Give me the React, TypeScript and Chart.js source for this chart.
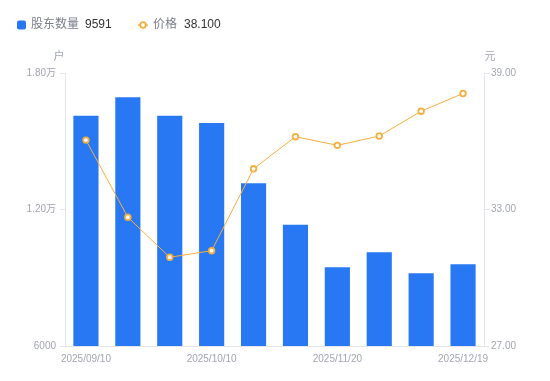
import React, { useEffect, useRef } from "react";
import { Chart, registerables } from "chart.js";

Chart.register(...registerables);

const dates = [
  "2025/09/10", "2025/09/19", "2025/09/30", "2025/10/10", "2025/10/24",
  "2025/11/10", "2025/11/20", "2025/11/30", "2025/12/10", "2025/12/19",
];
const holders = [16120, 16930, 16120, 15800, 13150, 11330, 9460, 10120, 9200, 9591];
const prices = [36.05, 32.66, 30.9, 31.19, 34.79, 36.2, 35.82, 36.23, 37.32, 38.1];
const leftTicks = [6000, 12000, 18000];
const rightTicks = [27, 33, 39];
const holderName = "股东数量";
const priceName = "价格";
const holderLatest = "9591";
const priceLatest = "38.100";
const leftUnit = "户";
const rightUnit = "元";

const BAR = "#2778F2";
const LINE = "#F8AE3C";
const AXIS = "#E3E5EA";
const TICK_TEXT = "#A2A5B0";
const FONT = "'Liberation Sans', Arial, 'Noto Sans CJK SC', sans-serif";

const overlayPlugin = {
  id: "overlay",
  afterDraw(chart: any) {
    const { ctx, chartArea } = chart;
    ctx.save();
    ctx.textBaseline = "middle";
    const cy = 25;
    // legend item 1
    ctx.fillStyle = BAR;
    ctx.beginPath();
    if ((ctx as any).roundRect) (ctx as any).roundRect(17, 20.5, 9, 9, 2);
    else ctx.rect(17, 20.5, 9, 9);
    ctx.fill();
    ctx.font = `12px ${FONT}`;
    ctx.textAlign = "left";
    ctx.fillStyle = "#7A7E8A";
    ctx.fillText(holderName, 31, cy);
    let w = ctx.measureText(holderName).width;
    ctx.fillStyle = "#333333";
    ctx.fillText(holderLatest, 31 + w + 6, cy);
    // legend item 2
    ctx.strokeStyle = LINE;
    ctx.lineWidth = 1.5;
    ctx.beginPath();
    ctx.moveTo(138, cy);
    ctx.lineTo(148, cy);
    ctx.stroke();
    ctx.beginPath();
    ctx.arc(143, cy, 2.8, 0, Math.PI * 2);
    ctx.fillStyle = "#fff";
    ctx.fill();
    ctx.lineWidth = 1.8;
    ctx.stroke();
    ctx.fillStyle = "#7A7E8A";
    ctx.fillText(priceName, 153, cy);
    w = ctx.measureText(priceName).width;
    ctx.fillStyle = "#333333";
    ctx.fillText(priceLatest, 153 + w + 7, cy);
    // unit labels
    ctx.font = `11px ${FONT}`;
    ctx.fillStyle = TICK_TEXT;
    ctx.textAlign = "center";
    ctx.fillText(leftUnit, chartArea.left - 6, 57);
    ctx.fillText(rightUnit, chartArea.right + 6, 57);
    ctx.restore();
  },
};

export default function App() {
  const ref = useRef<HTMLCanvasElement | null>(null);
  useEffect(() => {
    if (!ref.current) return;
    const chart = new Chart(ref.current, {
      type: "bar",
      data: {
        labels: dates,
        datasets: [
          {
            type: "line",
            label: priceName,
            data: prices,
            yAxisID: "y1",
            borderColor: LINE,
            borderWidth: 1,
            pointRadius: 2.8,
            pointBorderWidth: 1.8,
            pointBackgroundColor: "#fff",
            pointBorderColor: LINE,
            tension: 0,
            order: 0,
          } as any,
          {
            type: "bar",
            label: holderName,
            data: holders,
            yAxisID: "y",
            backgroundColor: BAR,
            barPercentage: 0.6,
            categoryPercentage: 1,
            order: 1,
          },
        ],
      },
      options: {
        animation: false,
        responsive: true,
        maintainAspectRatio: false,
        layout: { padding: { top: 73, left: 0, right: 0, bottom: 0 } },
        plugins: { legend: { display: false }, tooltip: { enabled: false } },
        scales: {
          x: {
            grid: { display: false, drawTicks: false },
            border: { display: true, color: AXIS },
            ticks: {
              autoSkip: false,
              maxRotation: 0,
              padding: 7,
              color: TICK_TEXT,
              font: { size: 10, family: FONT },
              callback: (_v: any, i: number) => (i % 3 === 0 ? dates[i] : ""),
            },
            afterFit: (s: any) => {
              s.height = 35;
            },
          },
          y: {
            position: "left",
            min: leftTicks[0],
            max: leftTicks[leftTicks.length - 1],
            afterBuildTicks: (s: any) => {
              s.ticks = leftTicks.map((v) => ({ value: v }));
            },
            grid: { display: true, drawOnChartArea: false, drawTicks: true, tickLength: 5, color: AXIS },
            border: { display: true, color: AXIS },
            ticks: {
              padding: 4,
              color: TICK_TEXT,
              font: { size: 10, family: FONT },
              callback: (v: any) => (v >= 10000 ? (v / 10000).toFixed(2) + "万" : String(v)),
            },
            afterFit: (s: any) => {
              s.width = 65;
            },
          },
          y1: {
            position: "right",
            min: rightTicks[0],
            max: rightTicks[rightTicks.length - 1],
            afterBuildTicks: (s: any) => {
              s.ticks = rightTicks.map((v) => ({ value: v }));
            },
            grid: { display: true, drawOnChartArea: false, drawTicks: true, tickLength: 5, color: AXIS },
            border: { display: true, color: AXIS },
            ticks: {
              padding: 2,
              color: TICK_TEXT,
              font: { size: 10, family: FONT },
              callback: (v: any) => Number(v).toFixed(2),
            },
            afterFit: (s: any) => {
              s.width = 66;
            },
          },
        },
      },
      plugins: [overlayPlugin],
    });
    return () => chart.destroy();
  }, []);
  return (
    <div style={{ position: "fixed", left: 0, top: 0, width: 550, height: 381, background: "#fff" }}>
      <canvas ref={ref} />
    </div>
  );
}
